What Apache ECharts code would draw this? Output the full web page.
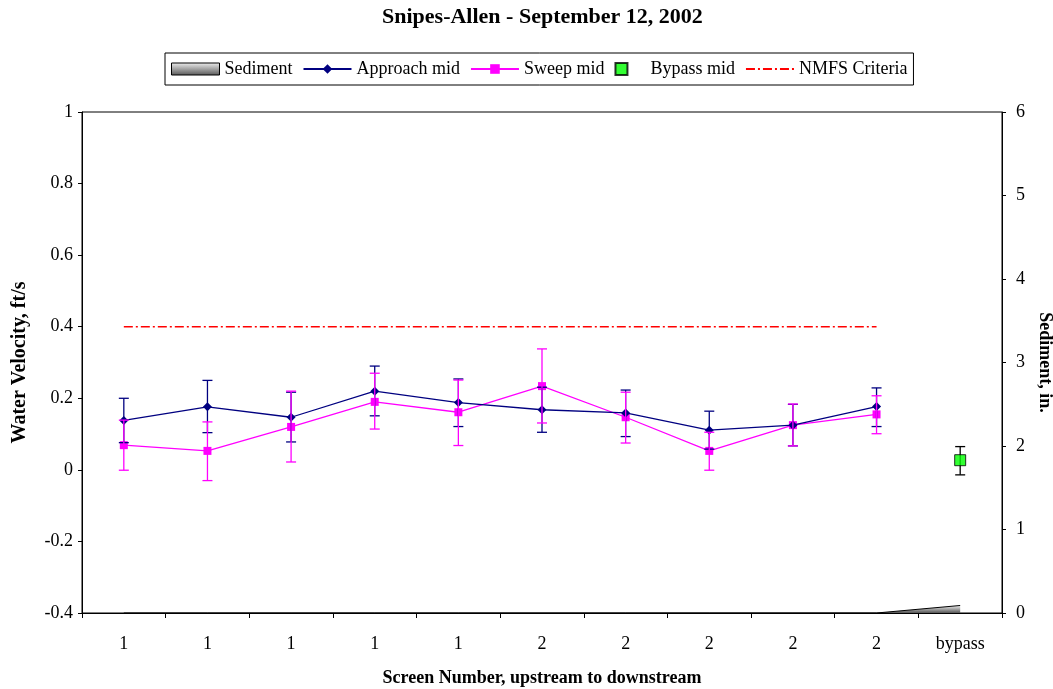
<!DOCTYPE html>
<html>
<head>
<meta charset="utf-8">
<script src="https://cdn.jsdelivr.net/npm/echarts@6/dist/echarts.min.js"></script>
<style>
html,body{margin:0;padding:0;background:#fff;}
#chart{width:1053px;height:689px;}
</style>
</head>
<body>
<div id="chart"></div>
<script>
const categories = ['1','1','1','1','1','2','2','2','2','2','bypass'];
const approach    = [0.138,0.176,0.147,0.220,0.188,0.168,0.159,0.111,0.125,0.177,null];
const approachLo  = [0.076,0.104,0.078,0.151,0.121,0.105,0.093,0.058,0.067,0.121,null];
const approachHi  = [0.200,0.250,0.217,0.290,0.254,0.231,0.223,0.164,0.183,0.229,null];
const sweep       = [0.069,0.053,0.120,0.190,0.161,0.234,0.147,0.053,0.125,0.155,null];
const sweepLo     = [-0.001,-0.030,0.022,0.114,0.068,0.131,0.075,-0.001,0.067,0.101,null];
const sweepHi     = [0.139,0.134,0.220,0.270,0.251,0.338,0.217,0.105,0.184,0.207,null];
const bypass      = [null,null,null,null,null,null,null,null,null,null,0.027];
const bypassLo    = [null,null,null,null,null,null,null,null,null,null,-0.014];
const bypassHi    = [null,null,null,null,null,null,null,null,null,null,0.065];
const sediment    = [0,0,0,0,0,0,0,0,0,0,0.09];
const nmfs        = [0.4,0.4,0.4,0.4,0.4,0.4,0.4,0.4,0.4,0.4,null];

const FONT = 'Liberation Serif';

function errData(lo, hi){
  const out = [];
  for(let i=0;i<lo.length;i++){ if(lo[i]!==null) out.push([i, lo[i], hi[i]]); }
  return out;
}
function errSeries(name, lo, hi, color){
  return {
    type:'custom', name:name, silent:true, z:5,
    data: errData(lo,hi),
    encode:{x:0, y:[1,2]},
    renderItem:function(params, api){
      const x = api.value(0);
      const p1 = api.coord([x, api.value(1)]);
      const p2 = api.coord([x, api.value(2)]);
      const w = 5;
      const st = {stroke:color, lineWidth:1.3};
      return {type:'group', children:[
        {type:'line', shape:{x1:p1[0],y1:p1[1],x2:p2[0],y2:p2[1]}, style:st},
        {type:'line', shape:{x1:p1[0]-w,y1:p1[1],x2:p1[0]+w,y2:p1[1]}, style:st},
        {type:'line', shape:{x1:p2[0]-w,y1:p2[1],x2:p2[0]+w,y2:p2[1]}, style:st}
      ]};
    }
  };
}

const sedGrad = new echarts.graphic.LinearGradient(0,0,0,1,[{offset:0,color:'#f0f0f0'},{offset:1,color:'#555'}]);

const chart = echarts.init(document.getElementById('chart'), null, {renderer:'canvas'});
chart.setOption({
  animation:false,
  backgroundColor:'#fff',
  textStyle:{fontFamily:FONT, color:'#000'},
  title:{
    text:'Snipes-Allen - September 12, 2002', left:377, top:1,
    textStyle:{fontFamily:FONT, fontWeight:'bold', fontSize:22, color:'#000'}
  },
  legend:{
    top:53, left:165,
    borderColor:'#000', borderWidth:1, padding:[7,6,7,6],
    itemGap:10, itemWidth:48, itemHeight:12,
    textStyle:{fontFamily:FONT, fontSize:18, color:'#000'},
    data:[
      {name:'Sediment', icon:'rect', itemStyle:{color:sedGrad, borderColor:'#000', borderWidth:1}},
      {name:'Approach mid'},
      {name:'Sweep mid'},
      {name:'Bypass mid', icon:'path://M0,0H10V10H0Z'},
      {name:'NMFS Criteria', itemStyle:{color:'rgba(0,0,0,0)', borderWidth:0}}
    ]
  },
  grid:{left:82, right:51, top:112, bottom:76, containLabel:false, outerBoundsMode:'none',
        show:true, borderColor:'#000', borderWidth:1, backgroundColor:'transparent'},
  xAxis:{
    type:'category', data:categories, boundaryGap:true,
    name:'Screen Number, upstream to downstream', nameLocation:'middle', nameGap:56,
    nameTextStyle:{fontFamily:FONT, fontWeight:'bold', fontSize:18, color:'#000'},
    axisLine:{onZero:false, lineStyle:{color:'#000', width:1}},
    axisTick:{show:true, length:5, interval:0, lineStyle:{color:'#000'}},
    axisLabel:{fontFamily:FONT, fontSize:18, color:'#000', margin:22, interval:0},
    splitLine:{show:false}
  },
  yAxis:[
    {
      type:'value', min:-0.4, max:1, interval:0.2, position:'left',
      name:'Water Velocity, ft/s', nameLocation:'middle', nameGap:52, nameRotate:90,
      nameTextStyle:{fontFamily:FONT, fontWeight:'bold', fontSize:20, color:'#000'},
      axisLine:{show:true, onZero:false, lineStyle:{color:'#000', width:1}},
      axisTick:{show:true, length:4, lineStyle:{color:'#000'}},
      axisLabel:{fontFamily:FONT, fontSize:18, color:'#000', margin:9},
      splitLine:{show:false}
    },
    {
      type:'value', min:0, max:6, interval:1, position:'right',
      name:'Sediment, in.', nameLocation:'middle', nameGap:22, nameRotate:-90,
      nameTextStyle:{fontFamily:FONT, fontWeight:'bold', fontSize:18, color:'#000'},
      axisLine:{show:true, onZero:false, lineStyle:{color:'#000', width:1}},
      axisTick:{show:true, length:4, lineStyle:{color:'#000'}},
      axisLabel:{fontFamily:FONT, fontSize:18, color:'#000', margin:14},
      splitLine:{show:false}
    }
  ],
  series:[
    {
      name:'Sediment', type:'line', yAxisIndex:1, data:sediment, symbol:'none',
      lineStyle:{color:'#000', width:1}, itemStyle:{color:'#888'},
      areaStyle:{color:sedGrad, opacity:1}, z:1
    },
    {
      name:'NMFS Criteria', type:'line', data:nmfs, symbol:'none',
      lineStyle:{color:'#ff0000', width:1.6, type:[9,3,2,3]}, itemStyle:{color:'#ff0000'}, z:2
    },
    {
      name:'Sweep mid', type:'line', data:sweep, symbol:'rect', symbolSize:8,
      lineStyle:{color:'#ff00ff', width:1.3}, itemStyle:{color:'#ff00ff'}, z:3
    },
    {
      name:'Approach mid', type:'line', data:approach, symbol:'diamond', symbolSize:9,
      lineStyle:{color:'#000080', width:1.3}, itemStyle:{color:'#000080'}, z:4
    },
    errSeries('approachErr', approachLo, approachHi, '#000080'),
    errSeries('sweepErr', sweepLo, sweepHi, '#ff00ff'),
    errSeries('bypassErr', bypassLo, bypassHi, '#000'),
    {
      name:'Bypass mid', type:'scatter', data:bypass, symbol:'rect', symbolSize:11,
      itemStyle:{color:'#00ff00', borderColor:'#000', borderWidth:1}, z:6
    }
  ]
});
</script>
</body>
</html>
